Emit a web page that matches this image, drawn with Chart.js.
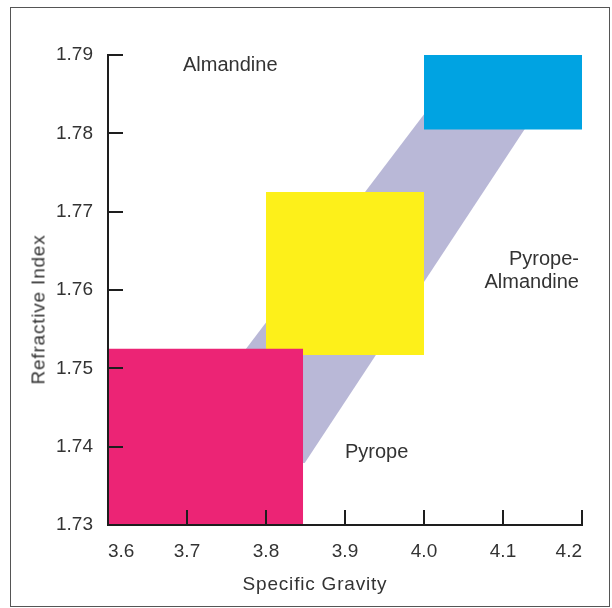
<!DOCTYPE html>
<html>
<head>
<meta charset="utf-8">
<script src="https://cdn.jsdelivr.net/npm/chart.js@4"></script>
<style>
html,body{margin:0;padding:0;background:#fff;}
#wrap{position:relative;width:612px;height:608px;overflow:hidden;background:#fff;}
#frame{position:absolute;left:10px;top:7px;width:600px;height:600px;border:1px solid #555;box-sizing:border-box;}
#c{position:absolute;left:0;top:0;}
.t{position:absolute;font-family:"Liberation Sans",Arial,sans-serif;color:#333;white-space:nowrap;}
</style>
</head>
<body>
<div id="wrap">
  <div id="frame"></div>
  <canvas id="c" width="612" height="608"></canvas>
  <div class="t" style="left:183px;top:54px;font-size:20px;line-height:20px;">Almandine</div>
  <div class="t" style="right:33px;top:247px;font-size:20px;line-height:23px;text-align:right;">Pyrope-<br>Almandine</div>
  <div class="t" style="left:345px;top:441px;font-size:20px;line-height:20px;">Pyrope</div>
  <div class="t" style="left:0;top:574px;width:630px;text-align:center;font-size:19px;line-height:19px;letter-spacing:0.8px;">Specific Gravity</div>
  <div class="t" style="left:-112px;top:300px;width:300px;height:19px;text-align:center;font-size:19px;line-height:19px;letter-spacing:0.8px;transform:rotate(-90deg);transform-origin:150px 9.5px;">Refractive Index</div>
</div>
<script>
// Axis ticks
const xTicks = [3.6, 3.7, 3.8, 3.9, 4.0, 4.1, 4.2];
const xTickLabels = ['3.6', '3.7', '3.8', '3.9', '4.0', '4.1', '4.2'];
const yTicks = [1.73, 1.74, 1.75, 1.76, 1.77, 1.78, 1.79];
const yTickLabels = ['1.73', '1.74', '1.75', '1.76', '1.77', '1.78', '1.79'];

// Garnet fields (specific gravity x refractive index ranges)
const regionNames = ['Pyrope', 'Pyrope-Almandine', 'Almandine'];
const sgMin = [3.60, 3.80, 4.00];
const sgMax = [3.847, 4.00, 4.20];
const riMin = [1.730, 1.7517, 1.7805];
const riMax = [1.7525, 1.7725, 1.790];

// Trend band (diagonal connecting the fields)
const bandLowerX = [3.665, 3.849, 4.152];
const bandLowerY = [1.7379, 1.7379, 1.7843];
const bandUpperX = [3.665, 4.014, 4.152];
const bandUpperY = [1.7379, 1.7843, 1.7843];

const regionColors = ['#ec2475', '#fdf01a', '#00a3e2'];
const bandColor = '#b9b8d7';
const axisColor = '#1e1e1e';
const textColor = '#333333';

Chart.defaults.font.family = '"Liberation Sans", Arial, sans-serif';
Chart.defaults.font.size = 19;
Chart.defaults.color = textColor;

const pts = (xs, ys) => xs.map((x, i) => ({x: x, y: ys[i]}));
const hiddenLine = {borderWidth: 0, borderColor: 'transparent', pointRadius: 0, pointHoverRadius: 0};

const datasets = [
  Object.assign({label: 'band-lower', data: pts(bandLowerX, bandLowerY), fill: false, order: 5}, hiddenLine),
  Object.assign({label: 'band', data: pts(bandUpperX, bandUpperY), fill: '-1', backgroundColor: bandColor, order: 4}, hiddenLine)
];
regionNames.forEach((name, i) => {
  datasets.push(Object.assign({
    label: name,
    data: [{x: sgMin[i], y: riMax[i]}, {x: sgMax[i], y: riMax[i]}],
    fill: {value: riMin[i]},
    backgroundColor: regionColors[i],
    order: i + 1
  }, hiddenLine));
});

new Chart(document.getElementById('c'), {
  type: 'line',
  data: {datasets: datasets},
  options: {
    responsive: false,
    animation: false,
    events: [],
    layout: {padding: {left: 0, right: 30, top: 55, bottom: 0}},
    plugins: {legend: {display: false}, tooltip: {enabled: false}},
    scales: {
      x: {
        type: 'linear', min: 3.6, max: 4.2, z: 1,
        afterBuildTicks: s => { s.ticks = xTicks.map(v => ({value: v})); },
        afterFit: s => { s.height = 83; },
        border: {display: true, color: axisColor, width: 2, z: 1},
        grid: {drawOnChartArea: false, drawTicks: true, tickLength: -15, color: axisColor, lineWidth: 2, z: 1},
        ticks: {align: 'inner', padding: 30, color: textColor, maxRotation: 0, autoSkip: false,
                callback: (v, i) => xTickLabels[i]},
        title: {display: false}
      },
      y: {
        type: 'linear', min: 1.73, max: 1.79, z: 1,
        afterBuildTicks: s => { s.ticks = yTicks.map(v => ({value: v})); },
        afterFit: s => { s.width = 108; },
        border: {display: true, color: axisColor, width: 2, z: 1},
        grid: {drawOnChartArea: false, drawTicks: true, tickLength: -15, color: axisColor, lineWidth: 2, z: 1},
        ticks: {padding: 30, color: textColor, autoSkip: false,
                callback: (v, i) => yTickLabels[i]},
        title: {display: false}
      }
    }
  }
});
</script>
</body>
</html>
